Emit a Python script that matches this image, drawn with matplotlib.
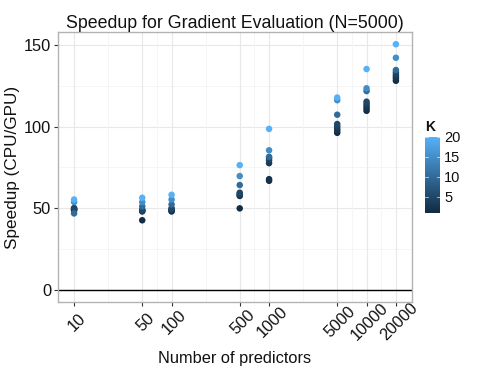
import numpy as np
import matplotlib
matplotlib.use("Agg")
import matplotlib.pyplot as plt
from matplotlib.colors import LinearSegmentedColormap, Normalize
from matplotlib.transforms import ScaledTranslation

plt.rcParams['font.family'] = ['Liberation Sans', 'DejaVu Sans']

# ---- data ----
predictors = [10, 50, 100, 500, 1000, 5000, 10000, 20000]
k_values = [1, 2, 3, 4, 5, 10, 15, 20]
# speedup[i][j]: predictors[i], k_values[j]
speedup = [
    [48.7, 49.0, 49.4, 49.8, 50.1, 46.8, 53.8, 55.3],
    [42.6, 48.0, 48.4, 48.7, 49.1, 51.1, 53.7, 56.4],
    [48.0, 48.4, 48.8, 49.4, 50.0, 52.3, 55.3, 58.2],
    [49.9, 57.5, 58.0, 58.8, 59.5, 64.2, 69.7, 76.4],
    [66.8, 67.8, 77.6, 79.4, 80.8, 81.5, 85.5, 98.6],
    [96.2, 97.6, 98.8, 100.2, 101.6, 107.3, 116.2, 117.8],
    [109.7, 111.1, 112.5, 113.9, 115.3, 121.8, 123.5, 135.3],
    [128.1, 129.5, 130.7, 131.9, 133.3, 134.7, 142.2, 150.5],
]
x_ticks = [10, 50, 100, 500, 1000, 5000, 10000, 20000]
x_ticklabels = ["10", "50", "100", "500", "1000", "5000", "10000", "20000"]
y_ticks = [0, 50, 100, 150]
cbar_ticks = [5, 10, 15, 20]

# ---- figure ----
W, H = 485, 374
fig = plt.figure(figsize=(W / 100, H / 100), dpi=100)
ax = fig.add_axes([58 / W, 1 - 302 / H, (412 - 58) / W, (302 - 32) / H])

cmap = LinearSegmentedColormap.from_list("gg", ["#132B43", "#56B1F7"])
norm = Normalize(vmin=1, vmax=20)

xs, ys, cs = [], [], []
for i, p in enumerate(predictors):
    for j, k in enumerate(k_values):
        xs.append(p)
        ys.append(speedup[i][j])
        cs.append(k)
order = np.argsort(cs)  # draw lighter on top
xs = np.array(xs)[order]
ys = np.array(ys)[order]
cs = np.array(cs)[order]

ax.axhline(0, color="black", lw=1.0, zorder=2)
ax.scatter(xs, ys, c=cs, cmap=cmap, norm=norm, s=22, edgecolors="none", zorder=3)

ax.set_xscale("log")
lo, hi = np.log10(10), np.log10(20000)
ex = 0.05 * (hi - lo)
ax.set_xlim(10 ** (lo - ex), 10 ** (hi + ex))
ax.set_ylim(-7.5, 158.0)

ax.set_xticks(x_ticks)
ax.set_xticklabels(x_ticklabels)
ax.xaxis.set_minor_locator(matplotlib.ticker.NullLocator())
ax.set_yticks(y_ticks)

# grid lines
for v in [25, 75, 125]:
    ax.axhline(v, color="#f4f4f4", lw=0.6, zorder=0)
for v in y_ticks:
    ax.axhline(v, color="#e8e8e8", lw=0.8, zorder=0)
lt = np.log10(x_ticks)
for a, b in zip(lt[:-1], lt[1:]):
    ax.axvline(10 ** ((a + b) / 2), color="#f4f4f4", lw=0.6, zorder=0)
for v in x_ticks:
    ax.axvline(v, color="#e8e8e8", lw=0.8, zorder=0)

for s in ax.spines.values():
    s.set_color("#b3b3b3")
    s.set_linewidth(1.0)

ax.tick_params(axis="both", which="major", length=3, width=0.8, color="#333333",
               labelsize=11.8, labelcolor="#111111")
ax.tick_params(axis="y", pad=2)
ax.tick_params(axis="x", pad=11.5)
offset = ScaledTranslation(3 / 100, 0, fig.dpi_scale_trans)
for lab in ax.get_xticklabels():
    lab.set_rotation(45)
    lab.set_ha("center")
    lab.set_va("center")
    lab.set_transform(lab.get_transform() + offset)

ax.set_title("Speedup for Gradient Evaluation (N=5000)", fontsize=12.8, pad=3, color="#111111")
ax.set_xlabel("Number of predictors", fontsize=11.8, labelpad=5, color="#111111")
ax.set_ylabel("Speedup (CPU/GPU)", fontsize=12.3, labelpad=3, color="#111111")

# colorbar
cax = fig.add_axes([425 / W, 1 - 213 / H, 15 / W, (213 - 137) / H])
grad = np.linspace(1, 20, 200).reshape(-1, 1)
cax.imshow(grad, aspect="auto", cmap=cmap, norm=norm, origin="lower",
           extent=[0, 1, 1, 20])
cax.set_xlim(0, 1)
cax.set_ylim(1, 20)
cax.set_xticks([])
cax.yaxis.tick_right()
cax.set_yticks(cbar_ticks)
cax.tick_params(axis="y", length=0, labelsize=10.5, pad=3, labelcolor="#111111")
for t in cbar_ticks:
    cax.plot([0, 0.2], [t, t], color="white", lw=0.6, alpha=0.7)
    cax.plot([0.8, 1], [t, t], color="white", lw=0.6, alpha=0.7)
for s in cax.spines.values():
    s.set_visible(False)
fig.text(425 / W, 1 - 127 / H, "K", fontsize=10, fontweight="bold", ha="left", va="center",
         color="#111111")

fig.savefig("out.png", dpi=100)
